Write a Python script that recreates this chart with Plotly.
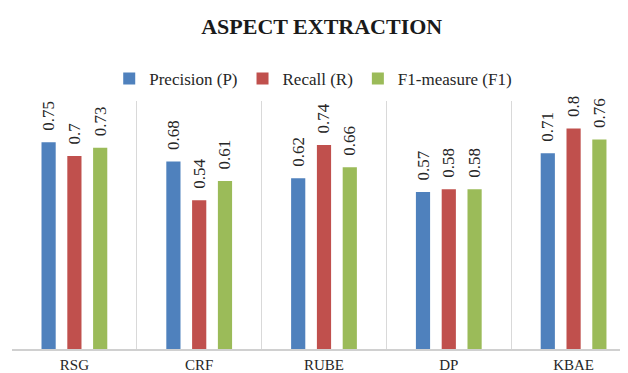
import plotly.graph_objects as go

categories = ["RSG", "CRF", "RUBE", "DP", "KBAE"]
precision = [0.75, 0.68, 0.62, 0.57, 0.71]
recall = [0.70, 0.54, 0.74, 0.58, 0.80]
f1 = [0.73, 0.61, 0.66, 0.58, 0.76]

series = [
    ("Precision (P)", precision, "#4F81BD"),
    ("Recall (R)", recall, "#C0504D"),
    ("F1-measure (F1)", f1, "#9BBB59"),
]

fig = go.Figure()
for name, vals, color in series:
    fig.add_trace(go.Bar(
        x=categories, y=vals, name=name,
        marker=dict(color=color, line=dict(width=0)),
        texttemplate="\u00a0\u00a0%{y}",
        textposition="outside",
        textangle=-90,
        constraintext="none",
        cliponaxis=False,
        outsidetextfont=dict(family="Liberation Serif", size=17, color="#262626"),
    ))

fig.update_layout(
    width=620, height=365,
    margin=dict(l=4, r=0, t=93, b=24, autoexpand=False),
    paper_bgcolor="white", plot_bgcolor="white",
    barmode="group", bargap=0.38, bargroupgap=0.45,
    title=dict(text="<b>ASPECT EXTRACTION</b>", x=0.506, xanchor="center",
               y=0.951, yanchor="middle",
               font=dict(family="Liberation Serif", size=22, color="#1a1a1a")),
    legend=dict(orientation="h", x=0.489, xanchor="center", y=1.089, yanchor="middle",
                font=dict(family="Liberation Serif", size=17, color="#262626"),
                itemwidth=30, traceorder="normal"),
    showlegend=True,
)
fig.update_xaxes(
    type="category", range=[-0.5, 4.436], automargin=False,
    tickson="boundaries", showgrid=True, gridcolor="#D9D9D9", gridwidth=1,
    showline=True, linecolor="#D0D0D0", linewidth=1.5,
    ticks="", ticklabelstandoff=1,
    tickfont=dict(family="Liberation Serif", size=15, color="#262626"),
)
fig.update_yaxes(range=[0, 0.9], visible=False)

fig.write_html("out.html")
